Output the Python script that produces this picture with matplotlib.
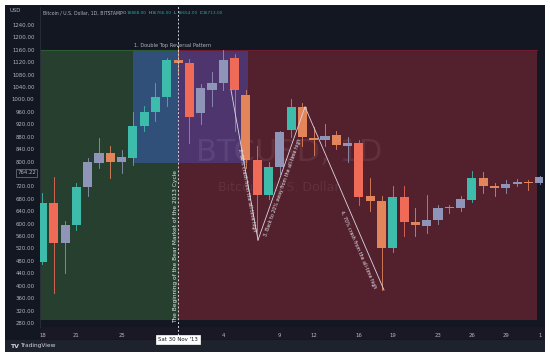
import numpy as np
import pandas as pd
import matplotlib
matplotlib.use("Agg")
import matplotlib.pyplot as plt
from matplotlib.patches import Rectangle
from matplotlib.transforms import blended_transform_factory

# daily BTC/USD (Bitstamp), 18 Nov 2013 - 1 Jan 2014
dates = pd.date_range("2013-11-18", "2014-01-01", freq="D")
opens = [477, 667, 538, 596, 718, 795, 828, 800, 812, 915, 960, 1008, 1127,
         1118, 956, 1030, 1053, 1134, 1014, 805, 692, 783, 902, 976, 876, 870,
         886, 850, 860, 689, 673, 522, 686, 605, 593, 612, 650, 650, 676, 747,
         721, 715, 728, 734, 731]
highs = [700, 750, 610, 730, 810, 876, 850, 837, 960, 980, 1053, 1135, 1165,
         1130, 1050, 1090, 1160, 1145, 1030, 850, 800, 900, 1000, 990, 910, 920,
         900, 880, 870, 747, 690, 720, 720, 650, 692, 660, 660, 690, 770, 765,
         730, 740, 745, 740, 755]
lows = [470, 377, 441, 580, 690, 780, 747, 763, 790, 900, 930, 980, 1080,
        860, 920, 980, 1030, 900, 780, 560, 680, 760, 880, 850, 820, 850,
        840, 800, 660, 640, 386, 510, 560, 560, 570, 600, 635, 640, 670, 700,
        690, 700, 720, 710, 728]
closes = [667, 538, 596, 718, 799, 828, 800, 815, 915, 960, 1008, 1127, 1118,
          944, 1037, 1053, 1127, 1030, 805, 692, 783, 895, 976, 880, 870, 883,
          853, 860, 686, 673, 522, 686, 605, 596, 612, 650, 651, 679, 747, 721,
          715, 728, 734, 731, 750]

price_ticks = [1240, 1200, 1160, 1120, 1080, 1040, 1000, 960, 920, 880, 840, 800,
               720, 680, 640, 600, 560, 520, 480, 440, 400, 360, 320, 280]
date_ticks = ["2013-11-18", "2013-11-21", "2013-11-25", "2013-12-04", "2013-12-09",
              "2013-12-12", "2013-12-16", "2013-12-19", "2013-12-23", "2013-12-26",
              "2013-12-29", "2014-01-01"]
date_labels = ["18", "21", "25", "4", "9", "12", "16", "19", "23", "26", "29", "1"]

# legend values in the header (last quote)
ohlc_labels = ["O", "H", "L", "C"]
ohlc_values = ["16868.00", "16766.00", "16654.00", "16713.00"]

# drawn zones (price levels / dates of the pattern boxes)
ath = 1160
zone_floor = 290
box_floor = 796
top_day = "2013-11-30"

BG = "#131722"
W, H = 550, 357

fig = plt.figure(figsize=(5.5, 3.57), dpi=100, facecolor="white")

def px(x0, y0, x1, y1):
    return [x0 / W, 1 - y1 / H, (x1 - x0) / W, (y1 - y0) / H]

panel = fig.add_axes(px(5, 5, 545, 352), zorder=0)
panel.set_facecolor(BG)
panel.set_xticks([]); panel.set_yticks([])
for s in panel.spines.values():
    s.set_visible(False)
# x-axis strip and bottom bar
panel.add_patch(Rectangle((0.0646, 13 / 347), 0.935, 12 / 347, transform=panel.transAxes,
                          color="#1b1826", lw=0))
panel.add_patch(Rectangle((0, 0), 1, 12 / 347, transform=panel.transAxes,
                          color="#1e222d", lw=0))

ax = fig.add_axes(px(40, 7, 543, 327), zorder=1)
ax.set_facecolor(BG)
day = {d: i for i, d in enumerate(dates.strftime("%Y-%m-%d"))}
x = np.arange(len(dates))
ax.set_xlim(-0.22, 44.29)
ax.set_ylim(267, 1298)

t12 = day[top_day]
# green zone before the top, red zone after, blue box over the double top
ax.add_patch(Rectangle((-1, zone_floor), t12 + 1, ath - zone_floor, color="#273f2e", lw=0, zorder=0))
ax.add_patch(Rectangle((t12, zone_floor), 43.76 - t12, ath - zone_floor, color="#53202d", lw=0, zorder=0))
ax.plot([-1, t12], [ath, ath], color="#2f5a37", lw=0.8, zorder=0.5)
ax.plot([t12, 43.76], [ath, ath], color="#6e1c30", lw=0.8, zorder=0.5)
ax.add_patch(Rectangle((8.01, box_floor), t12 - 8.01, ath - box_floor, color="#30507a", lw=0, zorder=0.2))
ax.add_patch(Rectangle((t12, box_floor), 18.19 - t12, ath - box_floor, color="#4e356e", lw=0, zorder=0.2))

# watermark
ax.text(21.8, 830, "BTCUSD, 1D", fontsize=22, color="white", alpha=0.08,
        ha="center", va="center", zorder=0.6)
ax.text(20.9, 718, "Bitcoin / U.S. Dollar", fontsize=9, color="white", alpha=0.08,
        ha="center", va="center", zorder=0.6)

# candles
teal, salmon, orange, lav = "#3dbcab", "#ef6a57", "#e3855a", "#8e95b8"
lav_days = {"2013-11-20", "2013-11-22", "2013-11-23", "2013-11-25", "2013-12-02",
            "2013-12-03", "2013-12-04", "2013-12-09", "2013-12-13", "2013-12-15",
            "2013-12-22", "2013-12-23", "2013-12-25", "2013-12-29", "2013-12-30",
            "2014-01-01"}
salmon_days = {"2013-11-19", "2013-12-01", "2013-12-05", "2013-12-07", "2013-12-16",
               "2013-12-20"}
for d, i, o, h, l, c in zip(dates.strftime("%Y-%m-%d"), x, opens, highs, lows, closes):
    if c >= o:
        col = lav if d in lav_days else teal
    else:
        col = salmon if d in salmon_days else orange
    ax.plot([i, i], [l, h], color=col, lw=0.6, zorder=2)
    ax.add_patch(Rectangle((i - 0.4, min(o, c)), 0.8, max(abs(c - o), 2.5),
                           color=col, lw=0, zorder=3))

# top marker
ax.axvline(t12, color="#d1d4dc", lw=0.7, ls=(0, (2, 2)), zorder=4, ymin=-0.05, ymax=1.006,
           clip_on=False)

# annotations
tc = "#e6e8ee"
ax.text(8.1, 1166, "1. Double Top Reversal Pattern", fontsize=3.6, color="#b2b5be",
        ha="left", va="bottom", zorder=5)
ax.text(11.73, 525, "The Beginning of the Bear Market of the 2013 Cycle", fontsize=4.2,
        color=tc, rotation=90, ha="center", va="center", zorder=5)
ax.plot([16.68, 19.07], [1031, 547], color="#d8d8e0", lw=0.6, zorder=5)
ax.plot([19.07, 23.23], [547, 976], color="#d8d8e0", lw=0.6, zorder=5)
ax.plot([23.23, 30.22], [976, 386], color="#d8d8e0", lw=0.6, zorder=5)
ax.text(18.1, 708, "2. 50% crash from the all-time high", fontsize=3.4, color=tc,
        rotation=-79.8, rotation_mode="anchor", ha="center", va="center", zorder=5)
ax.text(21.3, 718, "3. Back to 20% away from the all-time high", fontsize=3.4, color=tc,
        rotation=70.5, rotation_mode="anchor", ha="center", va="center", zorder=5)
ax.text(27.9, 515, "4. 70% crash from the all-time high", fontsize=3.4, color=tc,
        rotation=-66.6, rotation_mode="anchor", ha="center", va="center", zorder=5)

# axes styling
ax.set_yticks(price_ticks)
ax.set_yticklabels([f"{p:.2f}" for p in price_ticks])
ax.set_xticks([day[d] for d in date_ticks])
ax.set_xticklabels(date_labels)
ax.tick_params(axis="both", length=0, labelsize=3.9, colors="#b2b5be")
ax.tick_params(axis="y", pad=4)
ax.tick_params(axis="x", pad=4)
for s in ax.spines.values():
    s.set_visible(False)
ax.spines["left"].set_visible(True)
ax.spines["left"].set_color("#2a2e39")
ax.spines["left"].set_linewidth(0.6)

trans = blended_transform_factory(ax.transAxes, ax.transData)
ax.text(-0.008, 764.22, "764.22", transform=trans, fontsize=3.9, color="#b2b5be",
        ha="right", va="center", zorder=6,
        bbox=dict(boxstyle="square,pad=0.25", fc=BG, ec="#787b86", lw=0.5))
transx = blended_transform_factory(ax.transData, ax.transAxes)
ax.text(t12, -0.038, "Sat 30 Nov '13", transform=transx, fontsize=3.9, color="#131722",
        ha="center", va="center", zorder=6,
        bbox=dict(boxstyle="square,pad=0.35", fc="white", ec="white", lw=0.5))

# header
fig.text(10 / W, 1 - 11 / H, "USD", fontsize=3.8, color="#b2b5be", va="center")
fig.text(43 / W, 1 - 13 / H, "Bitcoin / U.S. Dollar, 1D, BITSTAMP", fontsize=3.3,
         color="#b2b5be", va="center")
hx = 123
for lab, val in zip(ohlc_labels, ohlc_values):
    fig.text(hx / W, 1 - 13 / H, lab, fontsize=3.1, color="#b2b5be", va="center")
    fig.text((hx + 3.3) / W, 1 - 13 / H, val, fontsize=3.1, color="#26a69a", va="center")
    hx += 25.5

fig.text(10 / W, 1 - 346 / H, "TV", fontsize=4.5, color="#d1d4dc", va="center", weight="bold")
fig.text(20 / W, 1 - 346 / H, "TradingView", fontsize=4.2, color="#d1d4dc", va="center")

fig.savefig("out.png", dpi=100, facecolor="white")
